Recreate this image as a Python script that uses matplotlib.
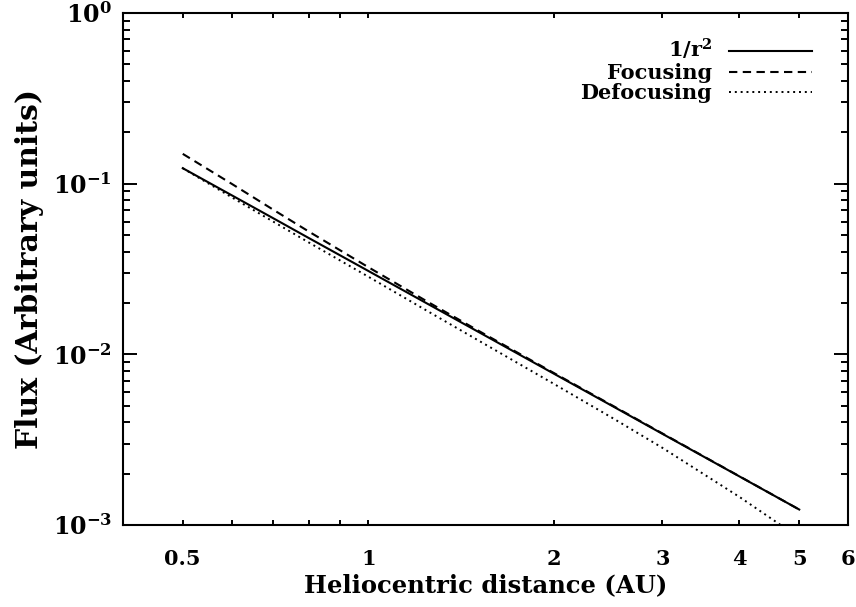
"""
Flux vs heliocentric distance: 1/r^2 compared with focusing and defocusing.
"""

import matplotlib
matplotlib.use('Agg')
import matplotlib.pyplot as plt
from matplotlib.ticker import FixedLocator, FixedFormatter, NullFormatter

# values
r_au = [0.5, 0.6, 0.7, 0.8, 1.0, 1.25, 1.5, 2.0, 2.5, 3.0, 4.0, 5.0]
flux_inv_sq = [0.1232, 0.0856, 0.0629, 0.0481, 0.0308, 0.0197, 0.01369,
               0.0077, 0.00493, 0.00342, 0.001925, 0.001232]
flux_focus = [0.1495, 0.0999, 0.0706, 0.0525, 0.0324, 0.02025, 0.01391,
              0.00777, 0.004965, 0.003437, 0.001929, 0.001232]
flux_defocus = [0.1232, 0.0833, 0.0601, 0.0453, 0.0285, 0.01784, 0.0122,
                0.00671, 0.004196, 0.002831, 0.00146, 0.000843]

x_major = [0.5, 1, 2, 3, 4, 5, 6]
x_labels = ['0.5', '1', '2', '3', '4', '5', '6']
x_minor = [0.6, 0.7, 0.8, 0.9]
y_major = [1e-3, 1e-2, 1e-1, 1e0]
y_labels = [r'$\mathbf{10^{-3}}$', r'$\mathbf{10^{-2}}$',
            r'$\mathbf{10^{-1}}$', r'$\mathbf{10^{0}}$']
y_minor = [m * d for d in (1e-3, 1e-2, 1e-1) for m in range(2, 10)]

plt.rcParams['font.family'] = ['DejaVu Serif']
plt.rcParams['font.weight'] = 'bold'
plt.rcParams['axes.labelweight'] = 'bold'
plt.rcParams['mathtext.fontset'] = 'dejavuserif'

fig = plt.figure(figsize=(8.56, 6.07), dpi=100)
ax = fig.add_axes([0.1437, 0.1351, 0.8470, 0.8435])

ax.plot(r_au, flux_inv_sq, '-', color='k', lw=1.5, label=r'1/r$^\mathbf{2}$')
ax.plot(r_au, flux_focus, color='k', lw=1.5, linestyle=(0, (4, 2.6)),
        label='Focusing')
ax.plot(r_au, flux_defocus, color='k', lw=1.4, linestyle=(0, (1, 2.0)),
        label='Defocusing')

ax.set_xscale('log')
ax.set_yscale('log')
ax.set_xlim(0.4, 6)
ax.set_ylim(1e-3, 1)

ax.xaxis.set_major_locator(FixedLocator(x_major))
ax.xaxis.set_major_formatter(FixedFormatter(x_labels))
ax.xaxis.set_minor_locator(FixedLocator(x_minor))
ax.xaxis.set_minor_formatter(NullFormatter())
ax.yaxis.set_major_locator(FixedLocator(y_major))
ax.yaxis.set_major_formatter(FixedFormatter(y_labels))
ax.yaxis.set_minor_locator(FixedLocator(y_minor))
ax.yaxis.set_minor_formatter(NullFormatter())

ax.tick_params(axis='both', which='both', direction='in', top=True, right=True,
               width=1.4, color='k')
ax.tick_params(axis='x', which='both', length=3.3, pad=17, labelsize=15)
ax.tick_params(axis='y', which='major', length=10, pad=8, labelsize=17)
ax.tick_params(axis='y', which='minor', length=5)
# the decade tick on x is longer than the others
for t in ax.xaxis.get_major_ticks():
    if t.get_loc() == 1:
        t.tick1line.set_markersize(6.5)
        t.tick2line.set_markersize(6.5)

for sp in ax.spines.values():
    sp.set_linewidth(1.5)

ax.set_xlabel('Heliocentric distance (AU)', fontsize=17.5, labelpad=3)
ax.set_ylabel('Flux (Arbitrary units)', fontsize=21.5, labelpad=6)

leg = ax.legend(loc='upper right', frameon=False, markerfirst=False,
                fontsize=15, handlelength=4.0, handletextpad=0.8,
                labelspacing=0.02, borderaxespad=0.0,
                bbox_to_anchor=(0.962, 0.969))

fig.savefig('out.png', dpi=100)
